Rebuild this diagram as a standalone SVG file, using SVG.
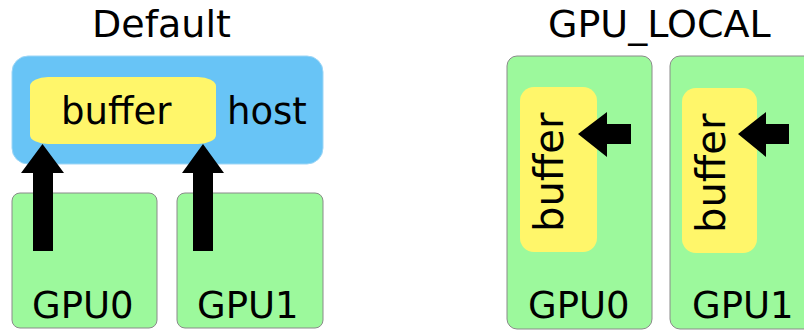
<svg xmlns="http://www.w3.org/2000/svg" width="804" height="332" viewBox="0 0 804 332">
<style>
text{font-family:"DejaVu Sans","Liberation Sans",sans-serif;fill:#000}
.t{font-size:38px}
.l{font-size:37px}
.gpu{fill:#9cf99c;stroke:#8a8a8a;stroke-width:1}
.host{fill:#68c4f6;stroke:#9dd6f6;stroke-width:1}
.buf{fill:#fff66a;stroke:none}
.arr{fill:#000}
</style>
<rect width="804" height="332" fill="#fff"/>
<text class="t" x="92" y="37">Default</text>
<text class="t" x="548" y="37">GPU_LOCAL</text>

<g id="host">
<rect class="host" x="12" y="56" width="311" height="108" rx="16" ry="16"/>
<text class="l" x="227" y="124">host</text>
</g>
<g id="buffer-default">
<rect class="buf" x="30" y="77" width="186" height="67" rx="18" ry="9"/>
<text class="l" x="61" y="124">buffer</text>
</g>
<g id="gpu0-default">
<rect class="gpu" x="12" y="193" width="145" height="135" rx="8"/>
<text class="l" x="32" y="318">GPU0</text>
</g>
<g id="gpu1-default">
<rect class="gpu" x="177" y="193" width="146" height="135" rx="8"/>
<text class="l" x="197" y="318">GPU1</text>
</g>

<g id="gpu0-local">
<rect class="gpu" x="507" y="56" width="145" height="273" rx="10"/>
<rect class="buf" x="520" y="87" width="77" height="165" rx="14"/>
<text class="l" transform="translate(563,232) rotate(-90)" font-size="40" style="font-size:40px">buffer</text>
<text class="l" x="528" y="318">GPU0</text>
</g>
<g id="gpu1-local">
<rect class="gpu" x="670" y="56" width="145" height="273" rx="10"/>
<rect class="buf" x="682" y="88" width="75" height="165" rx="14"/>
<text class="l" transform="translate(725,233) rotate(-90)" style="font-size:40px">buffer</text>
<text class="l" x="692" y="318">GPU1</text>
</g>

<g id="connectors">
<polygon class="arr" points="42.5,144 64,173 53,173 53,251 33,251 33,173 21,173"/>
<polygon class="arr" points="203,144 224,173 213,173 213,251 193,251 193,173 182,173"/>
<polygon class="arr" points="578,134 607,112 607,124 631,124 631,144 607,144 607,157"/>
<polygon class="arr" points="738,134 766,112 766,124 789,124 789,144 766,144 766,157"/>
</g>
</svg>
